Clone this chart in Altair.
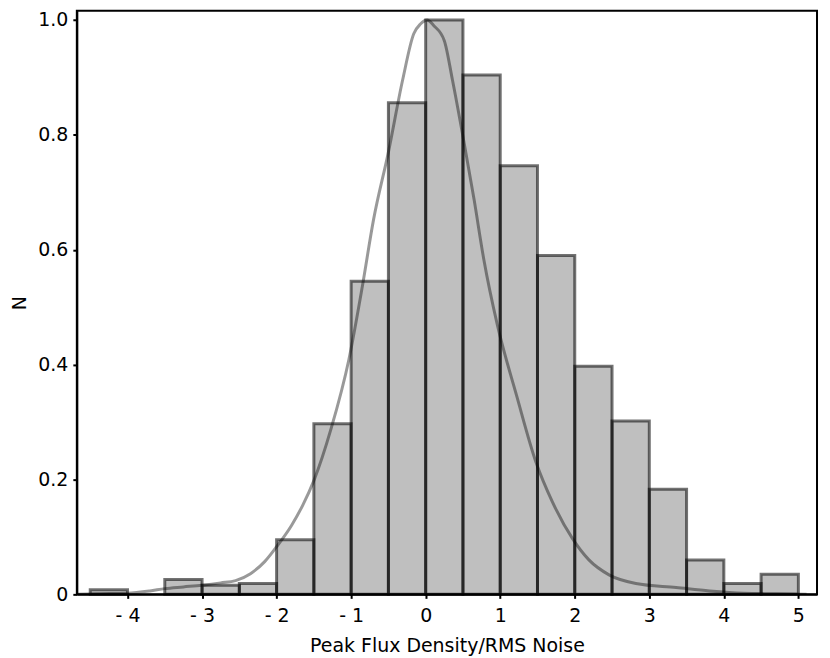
import altair as alt
import pandas as pd

# Histogram bins (left edge, right edge) and normalised heights
bin_left = [-4.5, -3.5, -3.0, -2.5, -2.0, -1.5, -1.0, -0.5, 0.0, 0.5, 1.0, 1.5, 2.0, 2.5, 3.0, 3.5, 4.0, 4.5]
bin_right = [-4.0, -3.0, -2.5, -2.0, -1.5, -1.0, -0.5, 0.0, 0.5, 1.0, 1.5, 2.0, 2.5, 3.0, 3.5, 4.0, 4.5, 5.0]
bin_height = [0.008, 0.026, 0.016, 0.019, 0.095, 0.297, 0.545, 0.856, 1.0, 0.904, 0.746, 0.590, 0.397, 0.302, 0.183, 0.060, 0.019, 0.035]

# Smooth noise curve
curve_x = [-4.68, -4.4, -4.0, -3.7, -3.5, -3.25, -3.0, -2.75, -2.55, -2.35, -2.16, -2.0, -1.8, -1.65,
           -1.5, -1.27, -1.03, -0.85, -0.70, -0.50, -0.31, -0.16, -0.07, 0.02, 0.11, 0.25, 0.36, 0.51,
           0.65, 0.78, 0.96, 1.22, 1.48, 1.70, 1.97, 2.19, 2.46, 2.82, 3.36, 3.81, 4.26, 4.7, 5.11]
curve_y = [0.0, 0.001, 0.002, 0.006, 0.010, 0.013, 0.016, 0.020, 0.024, 0.036, 0.057, 0.083, 0.120, 0.155,
           0.198, 0.288, 0.409, 0.536, 0.652, 0.770, 0.895, 0.976, 0.993, 1.0, 0.990, 0.964, 0.895, 0.790,
           0.687, 0.583, 0.470, 0.346, 0.230, 0.161, 0.097, 0.060, 0.034, 0.019, 0.012, 0.006, 0.002, 0.001, 0.0]

x_ticks = [-4, -3, -2, -1, 0, 1, 2, 3, 4, 5]
y_ticks = [0, 0.2, 0.4, 0.6, 0.8, 1.0]

bars_df = pd.DataFrame({"x": bin_left, "x2": bin_right, "y": bin_height})
curve_df = pd.DataFrame({"x": curve_x, "y": curve_y})

FONT = "DejaVu Sans"

x_scale = alt.Scale(domain=[-4.68, 5.25], nice=False, zero=False)
y_scale = alt.Scale(domain=[0, 1.016], nice=False, zero=False)

x_axis = alt.Axis(
    values=x_ticks,
    title="Peak Flux Density/RMS Noise",
    labelExpr="datum.value < 0 ? '- ' + format(-datum.value, 'd') : format(datum.value, 'd')",
    grid=False,
    tickSize=4,
    tickWidth=2,
    tickColor="black",
    domainColor="black",
    domainWidth=2,
    labelPadding=8,
    titlePadding=11,
    labelFont=FONT,
    labelFontSize=19,
    labelColor="black",
    titleFont=FONT,
    titleFontSize=19,
    titleFontWeight="normal",
    titleColor="black",
)
y_axis = alt.Axis(
    values=y_ticks,
    title="N",
    labelExpr="datum.value == 0 ? '0' : format(datum.value, '.1f')",
    grid=False,
    tickSize=4,
    tickWidth=2,
    tickColor="black",
    domainColor="black",
    domainWidth=2,
    labelPadding=5,
    titlePadding=8,
    labelFont=FONT,
    labelFontSize=19,
    labelColor="black",
    titleFont=FONT,
    titleFontSize=19,
    titleFontWeight="normal",
    titleColor="black",
)

bars = alt.Chart(bars_df).mark_rect(
    fill="black", fillOpacity=0.25, stroke="black", strokeOpacity=0.55, strokeWidth=3
).encode(
    x=alt.X("x:Q", scale=x_scale, axis=x_axis),
    x2="x2:Q",
    y=alt.Y("y:Q", scale=y_scale, axis=y_axis),
    y2=alt.datum(0),
)

line = alt.Chart(curve_df).mark_line(
    color="black", opacity=0.4, strokeWidth=3, interpolate="monotone", clip=True
).encode(
    x=alt.X("x:Q", scale=x_scale),
    y=alt.Y("y:Q", scale=y_scale),
)

chart = alt.layer(bars, line).properties(
    width=742,
    height=585,
    padding={"left": 2, "top": 2, "right": 5, "bottom": 0},
    background="white",
).configure_view(
    stroke="black", strokeWidth=2
)

chart.save("out.html", embed_options={"renderer": "svg", "actions": False})
